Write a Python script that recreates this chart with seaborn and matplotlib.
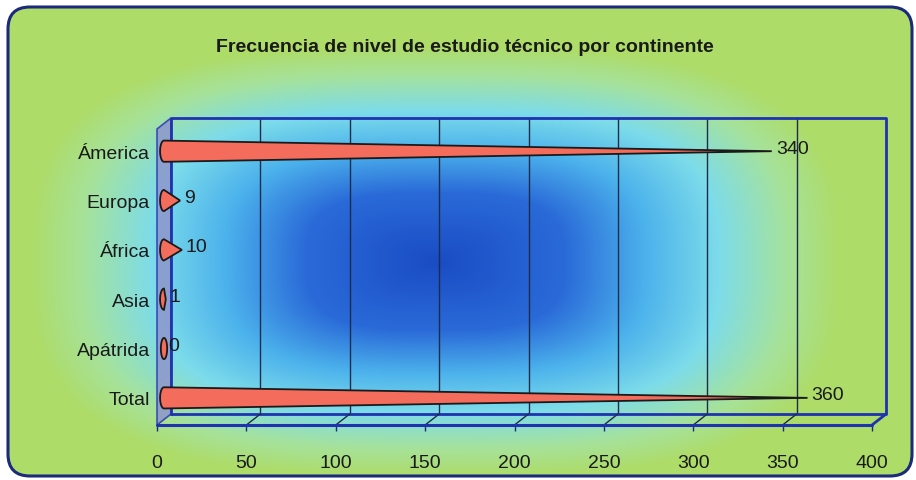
import numpy as np
import matplotlib
matplotlib.use("Agg")
import matplotlib.pyplot as plt
import matplotlib.transforms as mtransforms
from matplotlib.patches import Polygon, FancyBboxPatch
from matplotlib.colors import to_rgb
import seaborn as sns

# ---- data ----
continentes = ["Ámerica", "Europa", "África", "Asia", "Apátrida", "Total"]
frecuencias = [340, 9, 10, 1, 0, 360]
ticks_x = [0, 50, 100, 150, 200, 250, 300, 350, 400]
titulo = "Frecuencia de nivel de estudio técnico por continente"

sns.set_theme(style="white")
FAM = ["Liberation Sans Narrow", "Liberation Sans", "DejaVu Sans"]
plt.rcParams["font.family"] = FAM

W, H, DPI = 916, 481, 100
fig = plt.figure(figsize=(W / DPI, H / DPI), dpi=DPI, facecolor="white")

# ---- background panel with centre-out gradient ----
bg = fig.add_axes([0, 0, 1, 1])
bg.set_xlim(0, W)
bg.set_ylim(H, 0)
bg.axis("off")

yy, xx = np.mgrid[0:H, 0:W]
dx = np.abs(xx - 435) / 405.0
dy = np.abs(yy - 262) / 215.0
p = 3.0
d = np.clip((dx ** p + dy ** p) ** (1 / p), 0, 1)
stops = [0.0, 0.32, 0.52, 0.70, 0.87, 1.0]
cols = [to_rgb(c) for c in ["#1a4cc4", "#2a6ad8", "#4cb2ec", "#7ddcea", "#a6e29a", "#aedc68"]]
img = np.zeros((H, W, 3))
for ch in range(3):
    img[..., ch] = np.interp(d, stops, [c[ch] for c in cols])

panel = FancyBboxPatch((8, 8), 904, 469, boxstyle="round,pad=0,rounding_size=22",
                       facecolor="none", edgecolor="#1b2a7a", linewidth=2.2, zorder=3)
bg.add_patch(panel)
im = bg.imshow(img, extent=(0, W, H, 0), zorder=1, interpolation="bilinear")
im.set_clip_path(panel)

fig.text(465 / W, 1 - 47 / H, titulo, ha="center", va="center",
         fontsize=14, fontweight="bold", color="#1a1a1a", family=FAM)

# ---- main chart axes (front plane) ----
L, R, T, B = 157, 872, 130, 426
ax = fig.add_axes([L / W, 1 - B / H, (R - L) / W, (B - T) / H])
ax.set_facecolor("none")

sns.barplot(x=frecuencias, y=continentes, orient="h", ax=ax,
            color="#f46c5c", width=0.4)
bars = list(ax.patches)
ax.set_xlim(0, 400)
ax.set_ylim(5.55, -0.45)
ax.set_xticks(ticks_x)
ax.set_xlabel("")
ax.set_ylabel("")
for s in ax.spines.values():
    s.set_visible(False)
ax.tick_params(axis="x", length=4, width=1, color="#1a2a80", pad=17,
               labelsize=14, labelcolor="#1a1a1a", bottom=True)
ax.tick_params(axis="y", length=0, pad=5, labelsize=14, labelcolor="#1a1a1a")
for lab in ax.get_xticklabels() + ax.get_yticklabels():
    lab.set_family(FAM)

DX, DY = 14, 11  # depth of the 3-D box in pixels
back = mtransforms.offset_copy(ax.transData, fig=fig, x=DX, y=DY, units="dots")
mid = mtransforms.offset_copy(ax.transData, fig=fig, x=DX / 2, y=0, units="dots")
inv = ax.transData.inverted()
y0, y1 = 5.55, -0.45

# side wall
side_pts = np.array([ax.transData.transform((0, y0)), ax.transData.transform((0, y1)),
                     back.transform((0, y1)), back.transform((0, y0))])
ax.add_patch(Polygon(inv.transform(side_pts), closed=True, facecolor="#8e96cc",
                     edgecolor="#2a3ab0", lw=1.2, alpha=0.85, zorder=1, clip_on=False))

# back wall gridlines and outline
for xv in ticks_x[1:-1]:
    ax.plot([xv, xv], [y0, y1], color="#1e2c4c", lw=1, transform=back, zorder=1,
            clip_on=False)
ax.plot([0, 400, 400, 0, 0], [y0, y0, y1, y1, y0], color="#1f33b0", lw=2,
        transform=back, zorder=1.5, clip_on=False)

# floor: front edge, right edge and diagonal gridlines
ax.plot([0, 400], [y0, y0], color="#1f33b0", lw=2.2, zorder=2, clip_on=False)
for xv in ticks_x[1:]:
    pts = np.array([ax.transData.transform((xv, y0)), back.transform((xv, y0))])
    q = inv.transform(pts)
    ax.plot(q[:, 0], q[:, 1], color="#1e2c4c" if xv < 400 else "#1f33b0",
            lw=1 if xv < 400 else 2, zorder=1.6, clip_on=False)

# ---- cones replacing the bars ----
half_h = 0.215
rx = 2.2  # base ellipse half-width in data units
for bar in bars:
    val = bar.get_width()
    yc = bar.get_y() + bar.get_height() / 2
    bar.remove()
    theta = np.linspace(np.pi / 2, 3 * np.pi / 2, 40)
    arc = np.column_stack([rx * np.cos(theta), yc - half_h * np.sin(theta)])
    if val > 0:
        verts = np.vstack([[val, yc], arc])
    else:
        th2 = np.linspace(0, 2 * np.pi, 60)
        verts = np.column_stack([rx * 0.8 * np.cos(th2), yc + half_h * np.sin(th2)])
    ax.add_patch(Polygon(verts, closed=True, facecolor="#f46c5c", edgecolor="#1a1a1a",
                         lw=1.3, transform=mid, zorder=4, clip_on=False))
    lab_t = mtransforms.offset_copy(ax.transData, fig=fig, x=DX / 2 + 4, y=3, units="dots")
    ax.text(val, yc, f"{int(val)}", ha="left", va="center", fontsize=14,
            color="#1a1a1a", transform=lab_t, zorder=5, family=FAM)

fig.savefig("out.png", dpi=DPI, facecolor="white")
